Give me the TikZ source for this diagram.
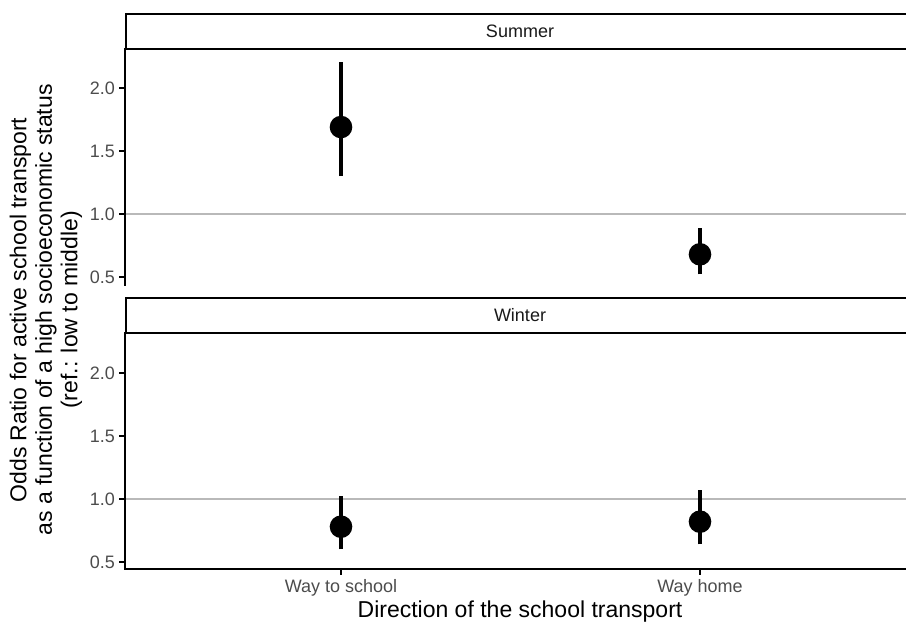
\documentclass[tikz,border=0pt]{standalone}
\usepackage{fontspec}
\setmainfont{Liberation Sans}
\begin{document}
\begin{tikzpicture}[x=1pt, y=1pt,
	axis/.style={line width=1.9pt, line cap=rect},
	refline/.style={line width=1.1pt, color=gray!55},
	cibar/.style={line width=4pt},
	estpoint/.style={fill=black},
	ticklab/.style={anchor=east, inner sep=0pt, text=black!70, font=\fontsize{18}{21}\selectfont},
	xlab/.style={anchor=base, inner sep=0pt, text=black!70, font=\fontsize{18}{21}\selectfont},
	striplab/.style={inner sep=0pt, text=black!90, font=\fontsize{18}{21}\selectfont},
	title/.style={inner sep=0pt, font=\fontsize{23}{25.5}\selectfont}]
	\useasboundingbox (0,0) rectangle (906,623);

	% strips
	\draw [axis, line cap=butt] (907,609) -- (126,609) -- (126,574) -- (907,574);
	\node (summer) [striplab] at (520,591.5) {Summer};
	\draw [axis, line cap=butt] (907,325) -- (126,325) -- (126,290) -- (907,290);
	\node (winter) [striplab] at (520,307.5) {Winter};

	% summer panel
	\begin{scope}[shift={(0,283)}, y=126pt]
	\draw [refline] (126,1) -- (906,1);
	\draw [axis] (125,0.437) -- (125,2.31);
	\draw [axis] (120,0.5) -- (125,0.5);
	\draw [axis] (120,1) -- (125,1);
	\draw [axis] (120,1.5) -- (125,1.5);
	\draw [axis] (120,2) -- (125,2);
	\node (s05) [ticklab] at (115,0.5) {0.5};
	\node (s10) [ticklab] at (115,1) {1.0};
	\node (s15) [ticklab] at (115,1.5) {1.5};
	\node (s20) [ticklab] at (115,2) {2.0};

	\draw [cibar] (341,1.30) -- (341,2.21);
	\fill [estpoint] (341,1.69) circle [radius=11.3pt];
	\draw [cibar] (700,0.52) -- (700,0.89);
	\fill [estpoint] (700,0.68) circle [radius=11.3pt];
	\end{scope}

	% winter panel
	\begin{scope}[shift={(0,-2)}, y=126pt]
	\draw [refline] (126,1) -- (906,1);
	\draw [axis] (125,0.444) -- (125,2.317);
	\draw [axis] (125,0.444) -- (906,0.444);
	\draw [axis] (120,0.5) -- (125,0.5);
	\draw [axis] (120,1) -- (125,1);
	\draw [axis] (120,1.5) -- (125,1.5);
	\draw [axis] (120,2) -- (125,2);
	\node (w05) [ticklab] at (115,0.5) {0.5};
	\node (w10) [ticklab] at (115,1) {1.0};
	\node (w15) [ticklab] at (115,1.5) {1.5};
	\node (w20) [ticklab] at (115,2) {2.0};

	\draw [cibar] (341,0.60) -- (341,1.02);
	\fill [estpoint] (341,0.78) circle [radius=11.3pt];
	\draw [cibar] (700,0.64) -- (700,1.07);
	\fill [estpoint] (700,0.82) circle [radius=11.3pt];
	\end{scope}

	% x axis
	\draw [axis] (341,54) -- (341,49);
	\draw [axis] (700,54) -- (700,49);
	\node (school) [xlab] at (341,30) {Way to school};
	\node (home) [xlab] at (700,30) {Way home};
	\node (xtitle) [title, anchor=base] at (520,5) {Direction of the school transport};

	% y axis title
	\node (ytitle) [title, rotate=90, align=center] at (46,313) {Odds Ratio for active school transport\\as a function of a high socioeconomic status\\(ref.: low to middle)};
\end{tikzpicture}
\end{document}
